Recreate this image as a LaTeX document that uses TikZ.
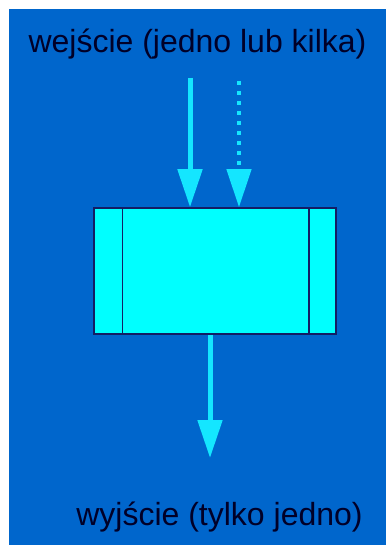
\documentclass[tikz,border=0pt]{standalone}
\usepackage{fontspec}
\setmainfont{Liberation Sans}
\usetikzlibrary{arrows.meta}
\definecolor{bgblue}{RGB}{0,102,204}
\definecolor{boxcyan}{RGB}{0,255,255}
\definecolor{arrcyan}{RGB}{20,230,255}
\definecolor{navy}{RGB}{20,30,100}
\definecolor{txt}{RGB}{0,0,40}
\tikzset{
  label text/.style={font=\fontsize{32bp}{38bp}\selectfont, text=txt, inner sep=0pt, anchor=base},
  flow/.style={draw=arrcyan, line width=5bp, -{Triangle[width=24bp,length=38bp,fill=arrcyan]}},
  flowdot/.style={draw=arrcyan, line width=4.5bp, dash pattern=on 4bp off 6bp, -{Triangle[width=24bp,length=38bp,fill=arrcyan]}},
  procbox/.style={draw=navy, fill=boxcyan, line width=1.5bp, minimum width=242bp, minimum height=126bp, inner sep=0pt}
}
\begin{document}
\begin{tikzpicture}[x=1bp,y=-1bp]
\fill[white] (0,0) rectangle (386,545);
\useasboundingbox (0,0) rectangle (386,545);
\fill[bgblue] (9,9) rectangle (386,545);

\node[label text] (in) at (197.5,53) {wejście (jedno lub kilka)};
\node[label text] (out) at (219.5,525) {wyjście (tylko jedno)};

\node[procbox] (box) at (215,271) {};
\draw[navy, line width=1.5bp] ([xshift=29bp]box.north west) -- ([xshift=29bp]box.south west);
\draw[navy, line width=1.5bp] ([xshift=-28bp]box.north east) -- ([xshift=-28bp]box.south east);

\coordinate (a1) at (190,78);
\coordinate (a2) at (239,81);
\coordinate (a3) at (210,458);

\draw[flow] (a1) -- (a1 |- box.north);
\draw[flowdot] (a2) -- (a2 |- box.north);
\draw[flow] (box.south -| a3) -- (a3);
\end{tikzpicture}
\end{document}
